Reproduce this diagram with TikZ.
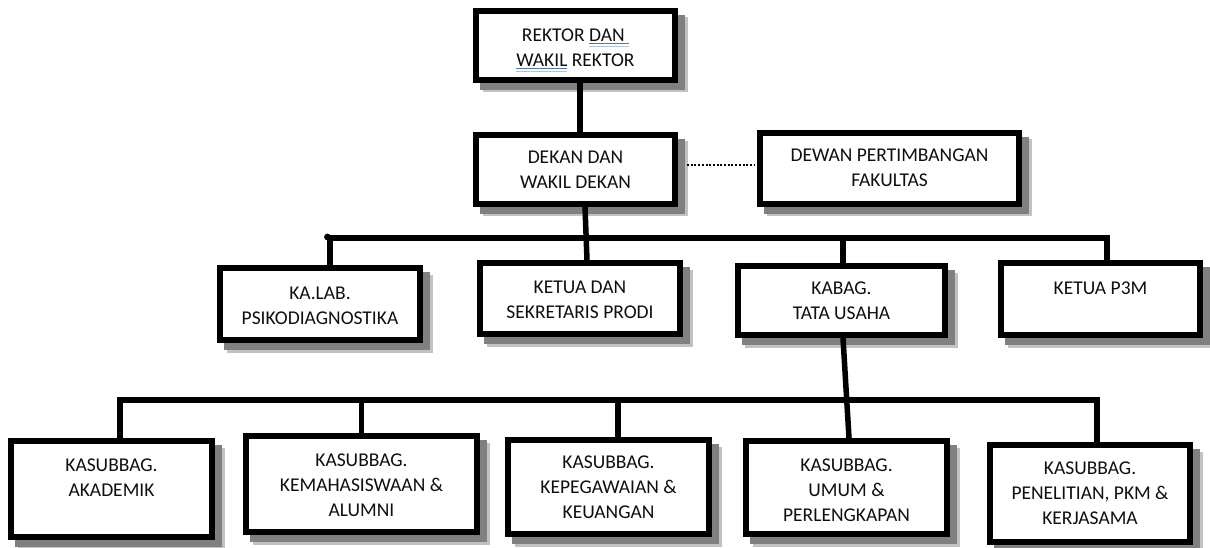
\documentclass[tikz,border=0pt]{standalone}
\usepackage{fontspec}
\setmainfont{Carlito}
\definecolor{shdark}{gray}{0.50}
\definecolor{shlight}{gray}{0.76}
\definecolor{ulc}{RGB}{80,120,170}
\definecolor{txt}{gray}{0.06}
\newcommand\grul[1]{\leavevmode\setbox0\hbox{#1}\rlap{\color{ulc}\rule[-3pt]{\wd0}{1.2pt}}\rlap{\color{ulc!45}\rule[-5.2pt]{\wd0}{1pt}}\box0\relax}
\newcommand\bt[1]{\parbox[t]{300pt}{\centering #1}}
\begin{document}
\begin{tikzpicture}[x=1pt,y=-1pt,
  box/.style={draw=black, line width=6pt, fill=white, inner sep=0pt,
    preaction={draw=shlight, fill=shlight, line width=6pt, transform canvas={xshift=9.5pt,yshift=-9.5pt}},
    preaction={draw=shdark, fill=shdark, line width=6pt, transform canvas={xshift=7pt,yshift=-7pt}}},
  lbl/.style={anchor=base, inner sep=0pt, text=txt, font=\fontsize{19.5}{25}\selectfont},
  conn/.style={line width=5.5pt, line join=miter, draw=black},
  dotline/.style={line width=2.6pt, draw=black, dash pattern=on 2pt off 1.7pt}]
\useasboundingbox (0,0) rectangle (1210,548);

% boxes
\node[box, minimum width=199pt, minimum height=69pt] (rektor) at (575.5,45.5) {};
\node[box, minimum width=199pt, minimum height=69pt] (dekan) at (575.5,169.5) {};
\node[box, minimum width=259pt, minimum height=71pt] (dewan) at (889.5,168.5) {};
\node[box, minimum width=200pt, minimum height=72pt] (kalab) at (320,304) {};
\node[box, minimum width=200pt, minimum height=71pt] (ketua) at (580,298.5) {};
\node[box, minimum width=207pt, minimum height=69pt] (kabag) at (841.5,300.5) {};
\node[box, minimum width=199pt, minimum height=72pt] (p3m) at (1100.5,299) {};
\node[box, minimum width=201pt, minimum height=96pt] (akad) at (111.5,489) {};
\node[box, minimum width=231pt, minimum height=96pt] (kema) at (361.5,484) {};
\node[box, minimum width=201pt, minimum height=94pt] (kepe) at (608.5,487) {};
\node[box, minimum width=201pt, minimum height=93pt] (umum) at (846.5,487.5) {};
\node[box, minimum width=200pt, minimum height=97pt] (penel) at (1090,493.5) {};

% bus coordinates
\coordinate (b1L) at (330,238);
\coordinate (b1R) at (1107,238);
\coordinate (b2L) at (120,400);
\coordinate (b2R) at (1097,400);
\coordinate (k3) at ([xshift=9.5pt]kepe.north);

% connectors
\draw[conn] ([xshift=4.5pt]rektor.south) -- ([xshift=4.5pt]dekan.north);
\draw[dotline] ([xshift=9pt,yshift=4.5pt]dekan.east) -- ([xshift=-3pt,yshift=3.5pt]dewan.west);
\draw[conn] (kalab.north -| b1L) -- (b1L) -- (b1R) -- (p3m.north -| b1R);
\fill (327.5,237) circle (3.4pt);
\draw[conn] ([xshift=9.5pt]dekan.south) -- ([xshift=7pt]ketua.north);
\draw[conn] ([xshift=1.5pt]kabag.north) -- ([xshift=1.5pt]kabag.north |- b1L);
\draw[conn] (akad.north -| b2L) -- (b2L) -- (b2R) -- (penel.north -| b2R);
\draw[conn] (kema.north) -- (kema.north |- b2L);
\draw[conn] (k3) -- (k3 |- b2L);
\draw[conn] ([xshift=1.5pt]kabag.south) -- ([xshift=2.5pt]umum.north);

% texts
\node[lbl] (trektor) at (575.5,41.5) {\bt{REKTOR \grul{DAN\ }\\\grul{WAKIL} REKTOR}};
\node[lbl] (tdekan) at (575.5,163.5) {\bt{DEKAN DAN\\WAKIL DEKAN}};
\node[lbl] (tdewan) at (889.5,161.5) {\bt{DEWAN PERTIMBANGAN\\FAKULTAS}};
\node[lbl] (tkalab) at (320,299.5) {\bt{KA.LAB.\\PSIKODIAGNOSTIKA}};
\node[lbl] (tketua) at (580,293.5) {\bt{KETUA DAN\\SEKRETARIS PRODI}};
\node[lbl] (tkabag) at (841.5,294.5) {\bt{KABAG.\\TATA USAHA}};
\node[lbl] (tp3m) at (1100.5,294.5) {\bt{KETUA P3M}};
\node[lbl] (takad) at (111.5,471.5) {\bt{KASUBBAG.\\AKADEMIK}};
\node[lbl] (tkema) at (361.5,466.5) {\bt{KASUBBAG.\\KEMAHASISWAAN \&\\ALUMNI}};
\node[lbl] (tkepe) at (608.5,468.5) {\bt{KASUBBAG.\\KEPEGAWAIAN \&\\KEUANGAN}};
\node[lbl] (tumum) at (846.5,471.5) {\bt{KASUBBAG.\\UMUM \&\\PERLENGKAPAN}};
\node[lbl] (tpenel) at (1090,474.5) {\bt{KASUBBAG.\\PENELITIAN, PKM \&\\KERJASAMA}};
\end{tikzpicture}
\end{document}
